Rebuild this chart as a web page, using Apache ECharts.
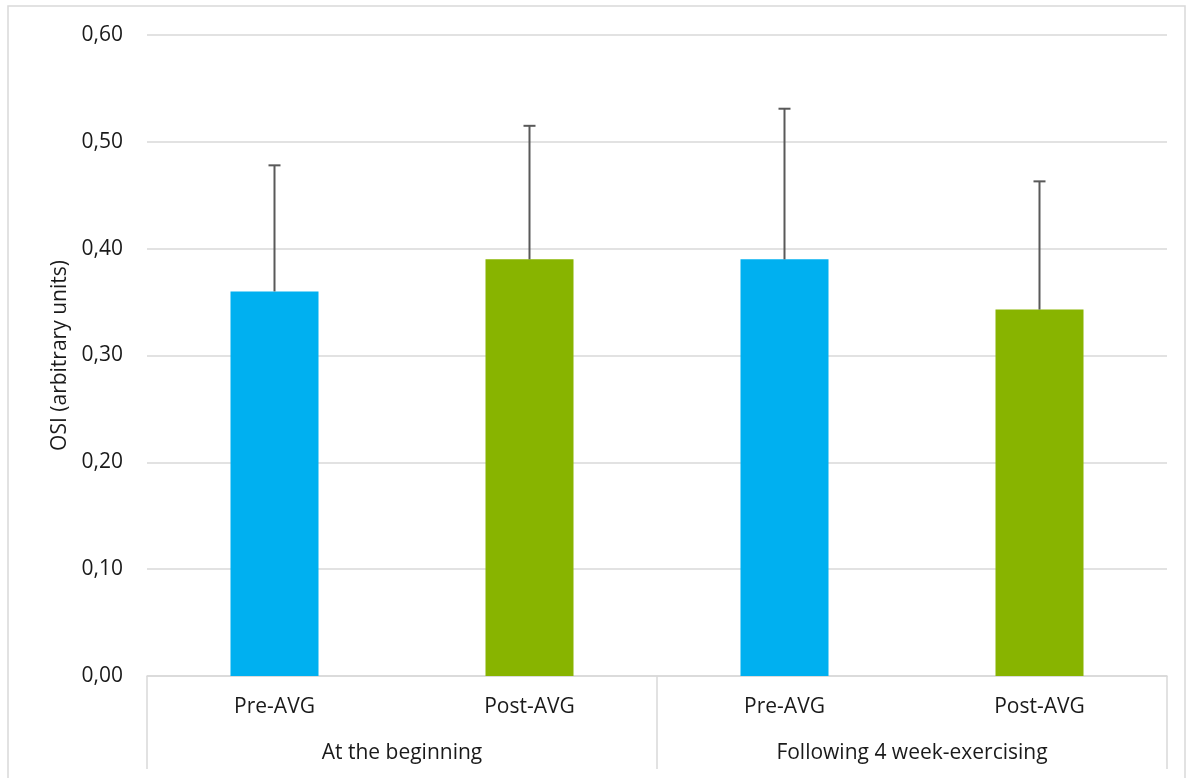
<!DOCTYPE html>
<html>
<head>
<meta charset="utf-8">
<script src="https://cdn.jsdelivr.net/npm/echarts@6/dist/echarts.min.js"></script>
<style>
  html, body { margin: 0; padding: 0; background: #fff; }
  #chart { width: 1187px; height: 778px; }
</style>
</head>
<body>
<div id="chart"></div>
<script>
// categories
const barLabels = ['Pre-AVG', 'Post-AVG', 'Pre-AVG', 'Post-AVG']
const groupLabels = ['At the beginning', 'Following 4 week-exercising']
// mean OSI and SD (upper error only)
const osiMean = [0.36, 0.39, 0.39, 0.343]
const osiSd = [0.118, 0.125, 0.141, 0.12]
const barColors = ['#00B0F0', '#88B400', '#00B0F0', '#88B400']

const font = 'Open Sans'
const textColor = '#1a1a1a'
const lineGray = '#d9d9d9'

let chart = echarts.init(document.getElementById('chart'))

chart.setOption({
  animation: false,
  textStyle: { fontFamily: font },
  graphic: [{
    type: 'rect',
    shape: { x: 8, y: 6, width: 1177, height: 790 },
    style: { fill: 'none', stroke: lineGray, lineWidth: 1.5 },
    silent: true
  }],
  grid: { left: 147, right: 20, top: 35, bottom: 102, containLabel: false },
  xAxis: [{
    type: 'category',
    data: barLabels,
    position: 'bottom',
    axisLine: { show: true, lineStyle: { color: lineGray, width: 1.5 } },
    axisTick: { show: false },
    axisLabel: { color: textColor, fontSize: 21, margin: 21, fontFamily: font }
  }, {
    type: 'category',
    data: groupLabels,
    position: 'bottom',
    axisLine: { show: false },
    axisTick: { show: true, length: 93, lineStyle: { color: lineGray, width: 1.5 } },
    axisLabel: { color: textColor, fontSize: 21, margin: 67, fontFamily: font }
  }],
  yAxis: {
    type: 'value',
    min: 0,
    max: 0.6,
    interval: 0.1,
    name: 'OSI (arbitrary units)',
    nameLocation: 'middle',
    nameGap: 75,
    nameTextStyle: { color: textColor, fontSize: 21, fontFamily: font },
    axisLine: { show: false },
    axisTick: { show: false },
    axisLabel: {
      color: textColor, fontSize: 21, margin: 24, fontFamily: font,
      formatter: v => v.toFixed(2).replace('.', ',')
    },
    splitLine: { lineStyle: { color: lineGray, width: 1.5 } }
  },
  series: [{
    type: 'bar',
    barWidth: 88,
    data: osiMean.map((v, i) => ({ value: v, itemStyle: { color: barColors[i] } })),
    z: 2
  }, {
    type: 'custom',
    z: 3,
    data: osiMean.map((v, i) => [i, v, v + osiSd[i]]),
    renderItem: (params, api) => {
      const base = api.coord([api.value(0), api.value(1)])
      const top = api.coord([api.value(0), api.value(2)])
      const style = { stroke: '#595959', lineWidth: 2 }
      return {
        type: 'group',
        children: [{
          type: 'line',
          shape: { x1: base[0], y1: base[1], x2: top[0], y2: top[1] },
          style: style
        }, {
          type: 'line',
          shape: { x1: top[0] - 6, y1: top[1], x2: top[0] + 6, y2: top[1] },
          style: style
        }]
      }
    }
  }]
})
</script>
</body>
</html>
